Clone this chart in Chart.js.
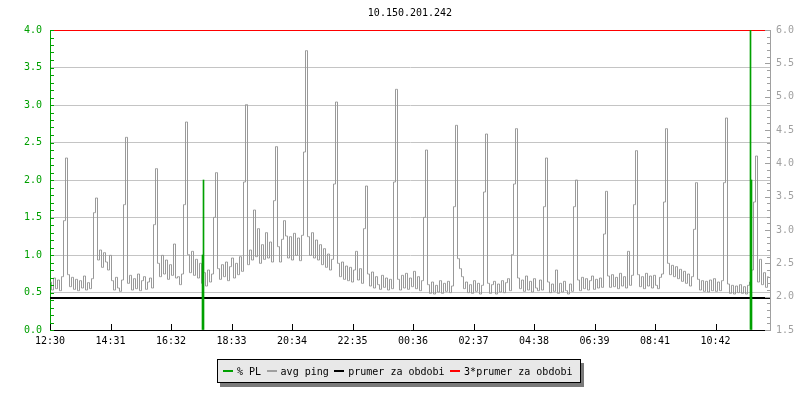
<!DOCTYPE html>
<html>
<head>
<meta charset="utf-8">
<script src="https://cdn.jsdelivr.net/npm/chart.js@4.4.1/dist/chart.umd.min.js"></script>
<style>
    body { margin: 0; background: #fff; }
    #wrap { position: relative; width: 800px; height: 400px; font-family: 'DejaVu Sans Mono', monospace; }
    #title { position: absolute; left: 50px; top: 7px; width: 720px; text-align: center; font-size: 10px; line-height: 12px; color: #000; }
    #legend {
        position: absolute; left: 217px; top: 359px; width: 364px; height: 24px; box-sizing: border-box;
        border: 1px solid #000; background: #e8e8e8; box-shadow: 3px 4px 0 #7a7a7a;
        display: flex; align-items: center; padding-left: 5px; font-size: 10px; line-height: 21px; color: #000;
    }
    #legend .sw { display: inline-block; width: 10px; height: 2px; margin-right: 4px; }
    #legend .txt { margin-right: 5.5px; white-space: pre; }
</style>
</head>
<body>
<div id="wrap">
    <canvas id="chart" width="800" height="400"></canvas>
    <div id="title">10.150.201.242</div>
    <div id="legend"></div>
</div>
<script>
// popisky osy x (krok 121 min), interval mereni 4 min
const xTickLabels = ['12:30', '14:31', '16:32', '18:33', '20:34', '22:35', '00:36', '02:37', '04:38', '06:39', '08:41', '10:42'];
const tickStepMinutes = 121;
const sampleMinutes = 4;
const sampleStart = 1;
const periodMinutes = 1440;

// avg ping [ms] - prava osa
const pingMs = [
    2.22, 2.10, 2.28, 2.12, 2.25, 2.09, 2.30, 3.14, 4.08,
    2.33, 2.15, 2.29, 2.11, 2.26, 2.09, 2.24, 2.13, 2.31, 2.10, 2.21, 2.12, 2.27, 3.26, 3.48,
    2.55, 2.70, 2.44, 2.66, 2.52, 2.40, 2.62, 2.24, 2.10, 2.29, 2.13, 2.08, 2.25, 3.38, 4.39,
    2.20, 2.32, 2.10, 2.27, 2.12, 2.34, 2.09, 2.24, 2.30, 2.11, 2.22, 2.28, 2.13, 3.08, 3.92,
    2.50, 2.30, 2.62, 2.34, 2.55, 2.26, 2.48, 2.32, 2.79, 2.28, 2.30, 2.18, 2.34, 3.38, 4.62,
    2.63, 2.36, 2.68, 2.32, 2.56, 2.28, 2.50, 2.20, 2.36, 2.16, 2.40, 2.22, 2.34, 3.19, 3.86,
    2.42, 2.26, 2.48, 2.30, 2.52, 2.24, 2.45, 2.58, 2.28, 2.50, 2.33, 2.60, 2.38, 3.72, 4.88,
    2.48, 2.70, 2.55, 3.30, 2.60, 3.02, 2.50, 2.78, 2.56, 2.96, 2.58, 2.82, 2.52, 3.44, 4.25,
    2.75, 2.52, 2.86, 3.14, 2.91, 2.58, 2.90, 2.55, 2.95, 2.62, 2.88, 2.54, 2.92, 4.17, 5.69,
    2.90, 2.62, 2.96, 2.58, 2.85, 2.55, 2.78, 2.48, 2.72, 2.44, 2.64, 2.40, 2.56, 3.69, 4.92,
    2.50, 2.30, 2.52, 2.26, 2.46, 2.24, 2.44, 2.22, 2.40, 2.68, 2.25, 2.42, 2.20, 3.02, 3.66,
    2.34, 2.16, 2.37, 2.13, 2.30, 2.18, 2.11, 2.32, 2.14, 2.28, 2.10, 2.26, 2.12, 3.72, 5.11,
    2.26, 2.10, 2.32, 2.13, 2.35, 2.11, 2.28, 2.15, 2.38, 2.12, 2.30, 2.09, 2.24, 3.19, 4.20,
    2.18, 2.05, 2.22, 2.04, 2.17, 2.07, 2.24, 2.05, 2.20, 2.08, 2.23, 2.06, 2.16, 3.35, 4.57,
    2.57, 2.42, 2.30, 2.12, 2.22, 2.06, 2.18, 2.05, 2.24, 2.08, 2.20, 2.04, 2.17, 3.57, 4.44,
    2.20, 2.05, 2.18, 2.23, 2.04, 2.19, 2.07, 2.24, 2.06, 2.21, 2.27, 2.09, 2.63, 3.69, 4.52,
    2.28, 2.12, 2.25, 2.08, 2.31, 2.10, 2.23, 2.07, 2.27, 2.13, 2.09, 2.25, 2.10, 3.35, 4.08,
    2.22, 2.06, 2.19, 2.08, 2.40, 2.05, 2.20, 2.07, 2.23, 2.09, 2.04, 2.19, 2.08, 3.35, 3.75,
    2.25, 2.09, 2.29, 2.12, 2.27, 2.10, 2.24, 2.31, 2.11, 2.26, 2.13, 2.28, 2.14, 2.94, 3.58,
    2.31, 2.14, 2.33, 2.15, 2.29, 2.12, 2.35, 2.16, 2.30, 2.13, 2.68, 2.17, 2.32, 3.38, 4.19,
    2.33, 2.15, 2.30, 2.12, 2.35, 2.16, 2.31, 2.13, 2.32, 2.17, 2.12, 2.29, 2.34, 3.42, 4.52,
    2.50, 2.33, 2.47, 2.30, 2.45, 2.27, 2.41, 2.23, 2.38, 2.20, 2.34, 2.16, 2.30, 3.01, 3.71,
    2.26, 2.10, 2.24, 2.08, 2.23, 2.07, 2.25, 2.09, 2.27, 2.08, 2.22, 2.09, 2.24, 3.71, 4.68,
    2.19, 2.05, 2.17, 2.04, 2.16, 2.06, 2.18, 2.05, 2.15, 2.04, 2.17, 2.22, 2.40, 3.42, 4.11,
    2.22, 2.56, 2.18, 2.36, 2.14, 2.30
];

// % PL - leva osa (jen nenulove vzorky)
const plMinutes = [305, 307, 1401, 1403];
const plValues = [1.0, 2.0, 4.0, 2.0];

// prumer za obdobi a 3*prumer [ms]
const avgMinutes = [0, 1440];
const avgValues = [1.98, 1.98];
const tripleValues = [6.0, 6.0];

const legendLabels = ['% PL', 'avg ping', 'prumer za obdobi', '3*prumer za obdobi'];
const legendColors = ['#00a000', '#a0a0a0', '#000000', '#ff0000'];

const plColor = '#00a000';
const pingColor = '#999999';
const axisGray = '#a0a0a0';
const gridColor = '#c4c4c4';
const font = { family: "'DejaVu Sans Mono'", size: 10 };

// vnitrni znacky na osach (jako v rrdtool)
const tickMarks = {
    id: 'tickMarks',
    afterDraw(chart) {
        const { ctx, chartArea: area, scales } = chart;
        ctx.save();
        ctx.lineWidth = 1;
        const hLine = (x1, x2, y) => { ctx.beginPath(); ctx.moveTo(x1, y); ctx.lineTo(x2, y); ctx.stroke(); };

        ctx.strokeStyle = plColor;
        for (let k = 0; k <= 40; k++) {
            const y = Math.round(scales.yPL.getPixelForValue(k / 10)) + 0.5;
            hLine(area.left, area.left + 4, y);
        }
        ctx.strokeStyle = axisGray;
        for (let k = 15; k <= 60; k++) {
            const y = Math.round(scales.yPing.getPixelForValue(k / 10)) + 0.5;
            hLine(area.right - (k % 5 ? 3 : 5), area.right, y);
        }
        ctx.strokeStyle = '#000';
        scales.x.ticks.forEach(t => {
            const x = Math.round(scales.x.getPixelForValue(t.value)) + 0.5;
            ctx.beginPath(); ctx.moveTo(x, area.bottom); ctx.lineTo(x, area.bottom - 6); ctx.stroke();
        });
        ctx.restore();
    }
};

// legenda
const legendEl = document.getElementById('legend');
legendLabels.forEach((label, i) => {
    const sw = document.createElement('span');
    sw.className = 'sw';
    sw.style.background = legendColors[i];
    const txt = document.createElement('span');
    txt.className = 'txt';
    txt.textContent = label;
    legendEl.appendChild(sw);
    legendEl.appendChild(txt);
});

new Chart(document.getElementById('chart'), {
    type: 'line',
    data: {
        datasets: [
            {
                label: '% PL',
                type: 'bar',
                yAxisID: 'yPL',
                data: plMinutes.map((m, i) => ({ x: m, y: plValues[i] })),
                backgroundColor: plColor,
                barThickness: 1,
                order: 0
            },
            {
                label: '3*prumer za obdobi',
                yAxisID: 'yPing',
                data: avgMinutes.map((m, i) => ({ x: m, y: tripleValues[i] })),
                borderColor: '#ff0000',
                borderWidth: 2,
                pointRadius: 0,
                order: 1
            },
            {
                label: 'prumer za obdobi',
                yAxisID: 'yPing',
                data: avgMinutes.map((m, i) => ({ x: m, y: avgValues[i] })),
                borderColor: '#000000',
                borderWidth: 2,
                pointRadius: 0,
                order: 2
            },
            {
                label: 'avg ping',
                yAxisID: 'yPing',
                data: pingMs.map((v, i) => ({ x: sampleStart + i * sampleMinutes, y: v })),
                borderColor: pingColor,
                borderWidth: 1,
                pointRadius: 0,
                stepped: 'middle',
                order: 3
            }
        ]
    },
    options: {
        responsive: false,
        animation: false,
        devicePixelRatio: 1,
        layout: { padding: { top: 30, left: 0, right: 0, bottom: 0 } },
        plugins: {
            legend: { display: false },
            title: { display: false },
            tooltip: { enabled: false }
        },
        scales: {
            x: {
                type: 'linear',
                min: 0,
                max: periodMinutes,
                offset: false,
                grid: { drawOnChartArea: false, drawTicks: false },
                border: { color: '#000' },
                afterBuildTicks: s => { s.ticks = xTickLabels.map((_, i) => ({ value: i * tickStepMinutes })); },
                afterFit: s => { s.height = 70; },
                ticks: {
                    autoSkip: false,
                    maxRotation: 0,
                    padding: 5,
                    color: '#000',
                    font,
                    callback: (v, i) => xTickLabels[i]
                }
            },
            yPL: {
                position: 'left',
                min: 0,
                max: 4,
                grid: {
                    drawTicks: false,
                    color: c => (c.tick && c.tick.value > 0 && c.tick.value < 4 ? gridColor : 'rgba(0,0,0,0)')
                },
                border: { color: plColor },
                afterFit: s => { s.width = 50; },
                ticks: { stepSize: 0.5, padding: 8, color: plColor, font, callback: v => v.toFixed(1) }
            },
            yPing: {
                position: 'right',
                min: 1.5,
                max: 6,
                grid: { drawOnChartArea: false, drawTicks: false },
                border: { color: axisGray },
                afterFit: s => { s.width = 30; },
                ticks: { stepSize: 0.5, padding: 6, color: axisGray, font, callback: v => v.toFixed(1) }
            }
        }
    },
    plugins: [tickMarks]
});
</script>
</body>
</html>
